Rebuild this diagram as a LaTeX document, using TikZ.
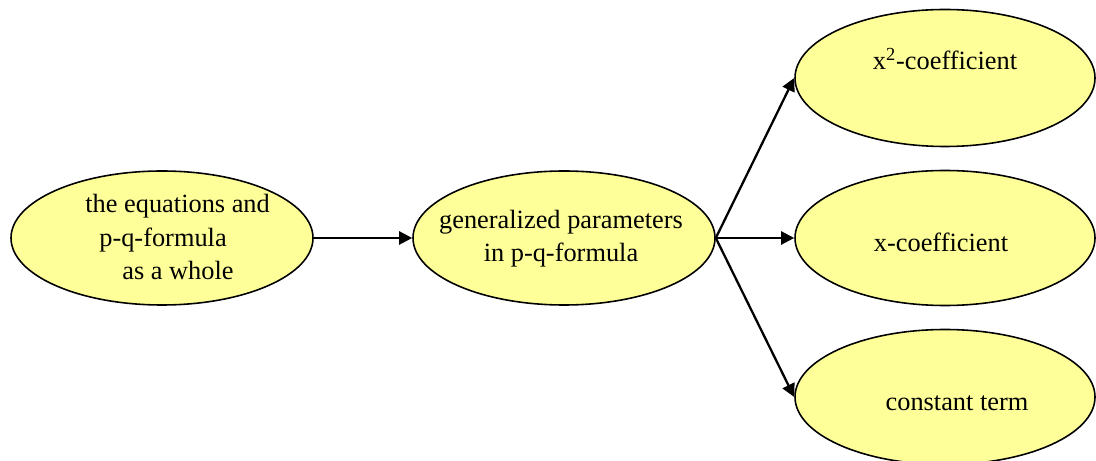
\documentclass[tikz,border=0pt]{standalone}
\usepackage{fontspec}
\setmainfont{Liberation Serif}
\usetikzlibrary{arrows.meta,shapes.geometric}
\definecolor{bubbleyellow}{RGB}{255,255,153}
\begin{document}
\begin{tikzpicture}
    % Define styles
    \tikzset{
        bubble/.style={draw, ellipse, fill=bubbleyellow, line width=0.9pt, inner sep=0pt, minimum width=6.04cm, minimum height=2.68cm},
        bubbletext/.style={font=\fontsize{15}{19.3}\selectfont, inner sep=0pt},
        flowarrow/.style={-{Triangle[length=0.26cm, width=0.26cm]}, line width=1.3pt}
    }
    \useasboundingbox (0,0) rectangle (21.92,-9.22);

    % Ellipses
    \node[bubble] (eqs) at (3.24,-4.76) {};
    \node[bubble] (params) at (11.28,-4.76) {};
    \node[bubble, minimum width=6cm, minimum height=2.74cm] (xsq) at (18.90,-1.56) {};
    \node[bubble, minimum width=6cm, minimum height=2.70cm] (xco) at (18.90,-4.76) {};
    \node[bubble, minimum width=6cm, minimum height=2.70cm] (const) at (18.90,-7.94) {};

    % Texts (base = last line)
    \node[bubbletext, anchor=base west, align=left] (eqstext) at (1.70,-5.60) {the equations and\\\hspace*{0.28cm}p-q-formula\\\hspace*{0.74cm}as a whole};
    \node[bubbletext, anchor=base, align=center] (paramstext) at (11.22,-5.24) {generalized parameters\\in p-q-formula};
    \node[bubbletext, anchor=base] (xsqtext) at (18.90,-1.40) {x\textsuperscript{2}-coefficient};
    \node[bubbletext, anchor=base] (xcotext) at (18.82,-5.04) {x-coefficient};
    \node[bubbletext, anchor=base] (consttext) at (19.14,-8.20) {constant term};

    % Arrows
    \draw[flowarrow] (eqs.east) -- (params.west);
    \draw[flowarrow] (params.east) -- (xsq.west);
    \draw[flowarrow] (params.east) -- (xco.west);
    \draw[flowarrow] (params.east) -- (const.west);
\end{tikzpicture}
\end{document}
